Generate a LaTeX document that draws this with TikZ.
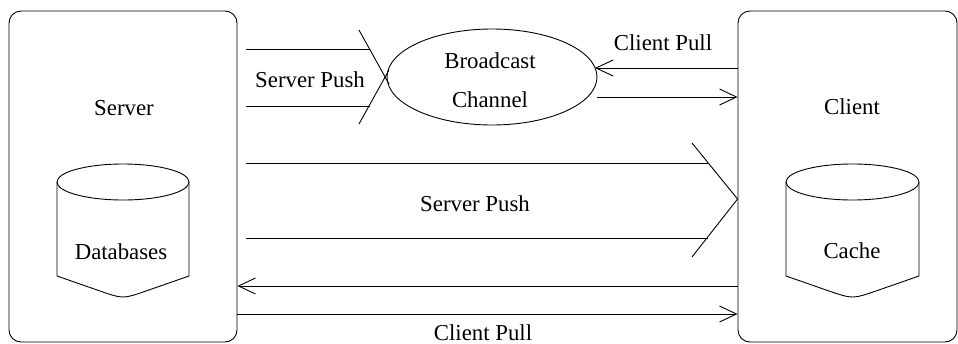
\documentclass[tikz,border=0pt]{standalone}
\usepackage{fontspec}
\setmainfont{Liberation Serif}
\usetikzlibrary{shapes.geometric,arrows.meta}
\begin{document}
\begin{tikzpicture}[x=0.5pt,y=-0.5pt,
  line width=0.45pt,
  every node/.style={font=\fontsize{11.4}{13}\selectfont, inner sep=0pt},
  sitebox/.style={draw, rounded corners=6pt, minimum height=165.5pt},
  tip/.style={-{Straight Barb[length=8.5pt,width=8pt,line width=0.45pt]}},
  ]
\useasboundingbox (0,0) rectangle (958,343);

% server and client frames
\node[sitebox, minimum width=114pt] (server) at (123,176.5) {};
\node[sitebox, minimum width=109.5pt] (client) at (847.5,176.5) {};
\node (servertxt) at (124,108) {Server};
\node (clienttxt) at (852,107) {Client};

% broadcast channel
\node[draw, ellipse, minimum width=105pt, minimum height=48pt] (channel) at (492,77) {};
\node (bc1) at (490,61) {Broadcast};
\node (bc2) at (490,100) {Channel};

% databases cylinder
\draw (123,182) ellipse [x radius=33pt, y radius=9pt];
\draw (57,182) -- (57,276) -- (100,291) .. controls (123,299) .. (146,291) -- (189,276) -- (189,182);
\node (db) at (121,252) {Databases};

% cache cylinder
\draw (852.5,182) ellipse [x radius=33.25pt, y radius=9pt];
\draw (786,182) -- (786,276) -- (829,291) .. controls (852.5,299) .. (876,291) -- (919,276) -- (919,182);
\node (cache) at (852,251) {Cache};

% server push onto the broadcast channel
\coordinate (sp1) at (369.5,49);
\coordinate (sp2) at (369.5,106);
\draw ([xshift=4.5pt]server.east |- sp1) -- (sp1);
\draw ([xshift=4.5pt]server.east |- sp2) -- (sp2);
\draw (359,30) -- (389,84);
\draw (359,124) -- (389,70);
\node (sptop) at (310,80) {Server Push};

% direct server push to the client
\coordinate (dp1) at (708.4,163);
\coordinate (dp2) at (708.4,238);
\draw ([xshift=4.5pt]server.east |- dp1) -- (dp1);
\draw ([xshift=4.5pt]server.east |- dp2) -- (dp2);
\draw (692,143) -- (client.west |- 0,199) -- (692,257);
\node (spmid) at (475,204) {Server Push};

% client pull through the broadcast channel
\draw[tip] (client.west |- 0,68) -- (595,68);
\draw[tip] (597,97) -- (client.west |- 0,97);
\node (cptop) at (663,43) {Client Pull};

% direct client pull
\draw[tip] (client.west |- 0,286) -- (server.east |- 0,286);
\draw[tip] (server.east |- 0,314) -- (client.west |- 0,314);
\node (cpbot) at (483,333) {Client Pull};
\end{tikzpicture}
\end{document}
